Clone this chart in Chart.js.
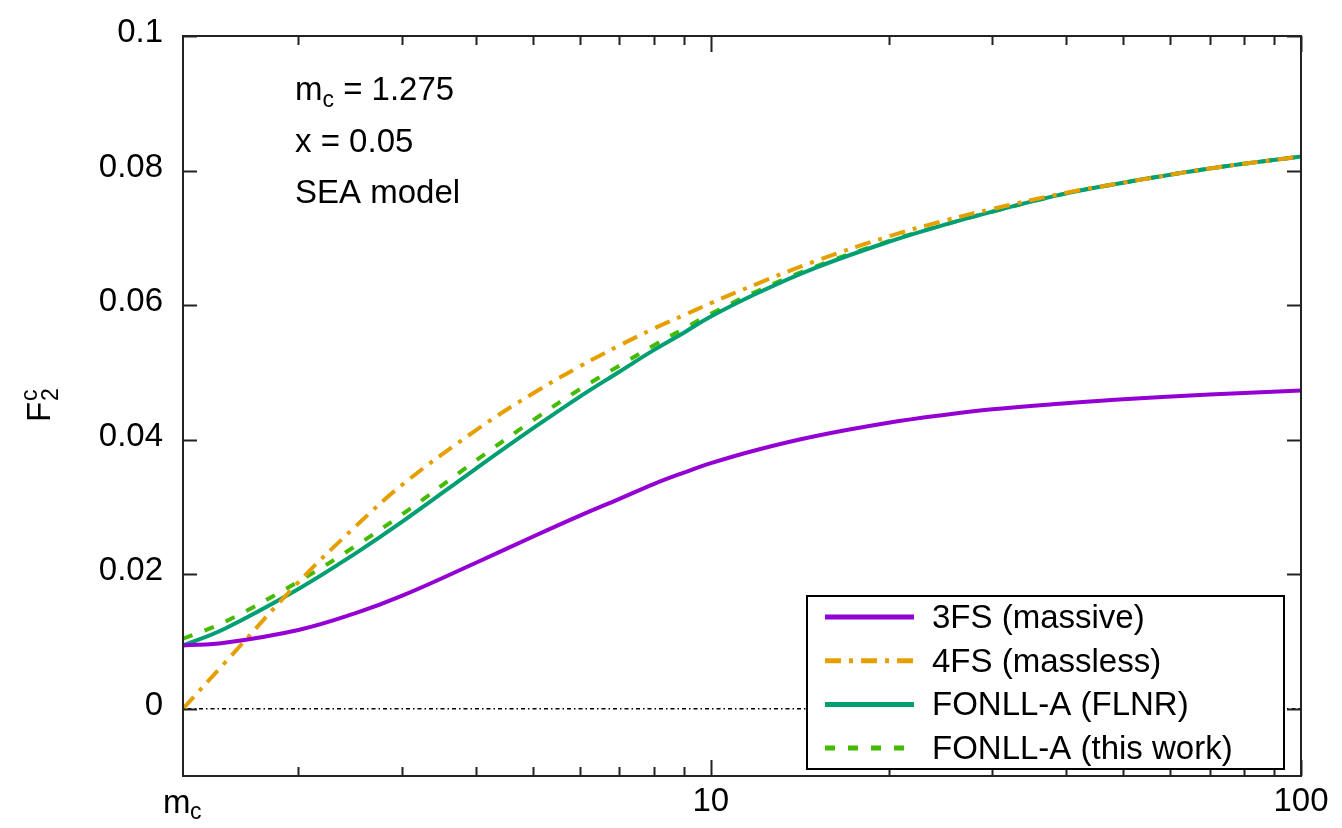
<!DOCTYPE html>
<html lang="en">
<head>
<meta charset="UTF-8">
<title>F2c vs Q</title>
<script src="https://cdn.jsdelivr.net/npm/chart.js"></script>
<style>
  body { margin: 0; background: #fff; }
  canvas { display: block; }
</style>
</head>
<body>
<canvas id="f2cChart" width="1342" height="828"></canvas>
<script>
// Q values in GeV; the first point sits at the charm mass
const qValues = [1.275, 1.5, 2, 2.5, 3, 4, 5, 6, 7, 8, 9, 10, 12, 15, 20, 25, 30, 40, 50, 70, 100];

// F2 charm structure function for each scheme
const massive3FS    = [0.0094, 0.0098, 0.0117, 0.0142, 0.0168, 0.0217, 0.0256, 0.0287, 0.0312, 0.0334, 0.0351, 0.0365, 0.0385, 0.0405, 0.0425, 0.0437, 0.0445, 0.0454, 0.0460, 0.0467, 0.0473];
const massless4FS   = [0.0000, 0.0068, 0.0188, 0.0271, 0.0333, 0.0414, 0.0469, 0.0509, 0.0540, 0.0565, 0.0585, 0.0603, 0.0632, 0.0665, 0.0702, 0.0726, 0.0743, 0.0767, 0.0782, 0.0803, 0.0821];
const fonllFLNR     = [0.0094, 0.0119, 0.0178, 0.0231, 0.0278, 0.0357, 0.0417, 0.0464, 0.0501, 0.0533, 0.0559, 0.0583, 0.0618, 0.0655, 0.0694, 0.0720, 0.0739, 0.0766, 0.0782, 0.0803, 0.0821];
const fonllThisWork = [0.0104, 0.0129, 0.0189, 0.0242, 0.0289, 0.0369, 0.0429, 0.0475, 0.0510, 0.0540, 0.0565, 0.0587, 0.0621, 0.0657, 0.0695, 0.0720, 0.0739, 0.0766, 0.0782, 0.0803, 0.0821];

const seriesLabels = ['3FS (massive)', '4FS (massless)', 'FONLL-A (FLNR)', 'FONLL-A (this work)'];
const seriesValues = [massive3FS, massless4FS, fonllFLNR, fonllThisWork];
const seriesColors = ['#9400D3', '#E69F00', '#009E73', '#44BB00'];
const seriesDashes = [[], [16, 8, 4, 8], [], [10, 13]];

// axis ticks
const yTicks = [0, 0.02, 0.04, 0.06, 0.08, 0.1];
const yTickLabels = ['0', '0.02', '0.04', '0.06', '0.08', '0.1'];
const xMinorTicks = [2, 3, 4, 5, 6, 7, 8, 9, 20, 30, 40, 50, 60, 70, 80, 90];
const xMajorTicks = [10, 100];
const xTickLabels = ['10', '100'];

const FONT = '33px "Liberation Sans", Arial, sans-serif';
const SMALL_FONT = '23px "Liberation Sans", Arial, sans-serif';

// frame, ticks, labels, key and the y=0 line, all placed with the chart scales
const framePlugin = {
    id: 'frame',
    beforeDatasetsDraw(chart) {
        const { ctx, chartArea: a, scales: { y } } = chart;
        const y0 = y.getPixelForValue(0);
        ctx.save();
        ctx.strokeStyle = '#000';
        ctx.lineWidth = 1.5;
        ctx.setLineDash([1.5, 3, 4, 3]);
        ctx.beginPath();
        ctx.moveTo(a.left, y0);
        ctx.lineTo(a.right, y0);
        ctx.stroke();
        ctx.restore();
    },
    afterDatasetsDraw(chart) {
        const { ctx, chartArea: a, scales: { x, y } } = chart;
        ctx.save();
        ctx.strokeStyle = '#222';
        ctx.lineWidth = 2;
        ctx.setLineDash([]);

        // tick marks, mirrored on the opposite sides
        ctx.beginPath();
        xMinorTicks.forEach(v => {
            const px = Math.round(x.getPixelForValue(v)) + 0.5;
            ctx.moveTo(px, a.bottom); ctx.lineTo(px, a.bottom - 9);
            ctx.moveTo(px, a.top); ctx.lineTo(px, a.top + 9);
        });
        xMajorTicks.forEach(v => {
            const px = Math.round(x.getPixelForValue(v)) + 0.5;
            ctx.moveTo(px, a.bottom); ctx.lineTo(px, a.bottom - 16);
            ctx.moveTo(px, a.top); ctx.lineTo(px, a.top + 16);
        });
        yTicks.forEach(v => {
            const py = Math.round(y.getPixelForValue(v)) + 0.5;
            ctx.moveTo(a.left, py); ctx.lineTo(a.left + 14, py);
            ctx.moveTo(a.right, py); ctx.lineTo(a.right - 14, py);
        });
        ctx.stroke();

        // border
        ctx.strokeRect(a.left, a.top, a.right - a.left, a.bottom - a.top);

        // tick labels
        ctx.fillStyle = '#000';
        ctx.font = FONT;
        ctx.textAlign = 'right';
        ctx.textBaseline = 'middle';
        yTicks.forEach((v, i) => {
            ctx.fillText(yTickLabels[i], a.left - 20, y.getPixelForValue(v) - 3);
        });
        ctx.textAlign = 'center';
        xMajorTicks.forEach((v, i) => {
            ctx.fillText(xTickLabels[i], x.getPixelForValue(v), a.bottom + 26);
        });
        ctx.textAlign = 'left';
        ctx.textBaseline = 'alphabetic';
        ctx.fillText('m', a.left - 20, a.bottom + 37);
        ctx.font = SMALL_FONT;
        ctx.fillText('c', a.left + 7, a.bottom + 43);

        // y axis title, F2 with charm superscript
        ctx.save();
        ctx.translate(50, 422);
        ctx.rotate(-Math.PI / 2);
        ctx.font = FONT;
        ctx.fillText('F', 0, 0);
        ctx.font = SMALL_FONT;
        ctx.fillText('c', 21, -13);
        ctx.fillText('2', 21, 8);
        ctx.restore();

        // run parameters
        ctx.font = FONT;
        let tx = 295;
        ctx.fillText('m', tx, 100);
        tx += ctx.measureText('m').width;
        ctx.font = SMALL_FONT;
        ctx.fillText('c', tx, 107);
        tx += ctx.measureText('c').width;
        ctx.font = FONT;
        ctx.fillText(' = 1.275', tx, 100);
        ctx.fillText('x = 0.05', 295, 152);
        ctx.fillText('SEA model', 295, 203);

        // key
        const box = { left: 807, top: 596, width: 477, height: 173 };
        ctx.fillStyle = '#fff';
        ctx.fillRect(box.left, box.top, box.width, box.height);
        ctx.strokeStyle = '#000';
        ctx.lineWidth = 2;
        ctx.strokeRect(box.left, box.top, box.width, box.height);
        chart.data.datasets.forEach((ds, i) => {
            const ry = 617 + i * 43.7;
            ctx.strokeStyle = ds.borderColor;
            ctx.lineWidth = 5;
            ctx.setLineDash(ds.borderDash);
            ctx.beginPath();
            ctx.moveTo(825, ry);
            ctx.lineTo(914, ry);
            ctx.stroke();
            ctx.setLineDash([]);
            ctx.fillStyle = '#000';
            ctx.font = FONT;
            ctx.fillText(ds.label, 932, ry + 11);
        });
        ctx.restore();
    }
};

new Chart(document.getElementById('f2cChart'), {
    type: 'line',
    data: {
        datasets: seriesValues.map((vals, i) => ({
            label: seriesLabels[i],
            data: qValues.map((q, j) => ({ x: q, y: vals[j] })),
            borderColor: seriesColors[i],
            borderWidth: 4,
            borderDash: seriesDashes[i],
            pointRadius: 0,
            tension: 0.4,
            fill: false
        }))
    },
    options: {
        responsive: false,
        animation: false,
        layout: { padding: { left: 183, right: 41, top: 36, bottom: 52 } },
        scales: {
            x: { type: 'logarithmic', min: 1.275, max: 100, display: false },
            y: { type: 'linear', min: -0.01, max: 0.1, display: false }
        },
        plugins: {
            legend: { display: false },
            tooltip: { enabled: false }
        }
    },
    plugins: [framePlugin]
});
</script>
</body>
</html>
